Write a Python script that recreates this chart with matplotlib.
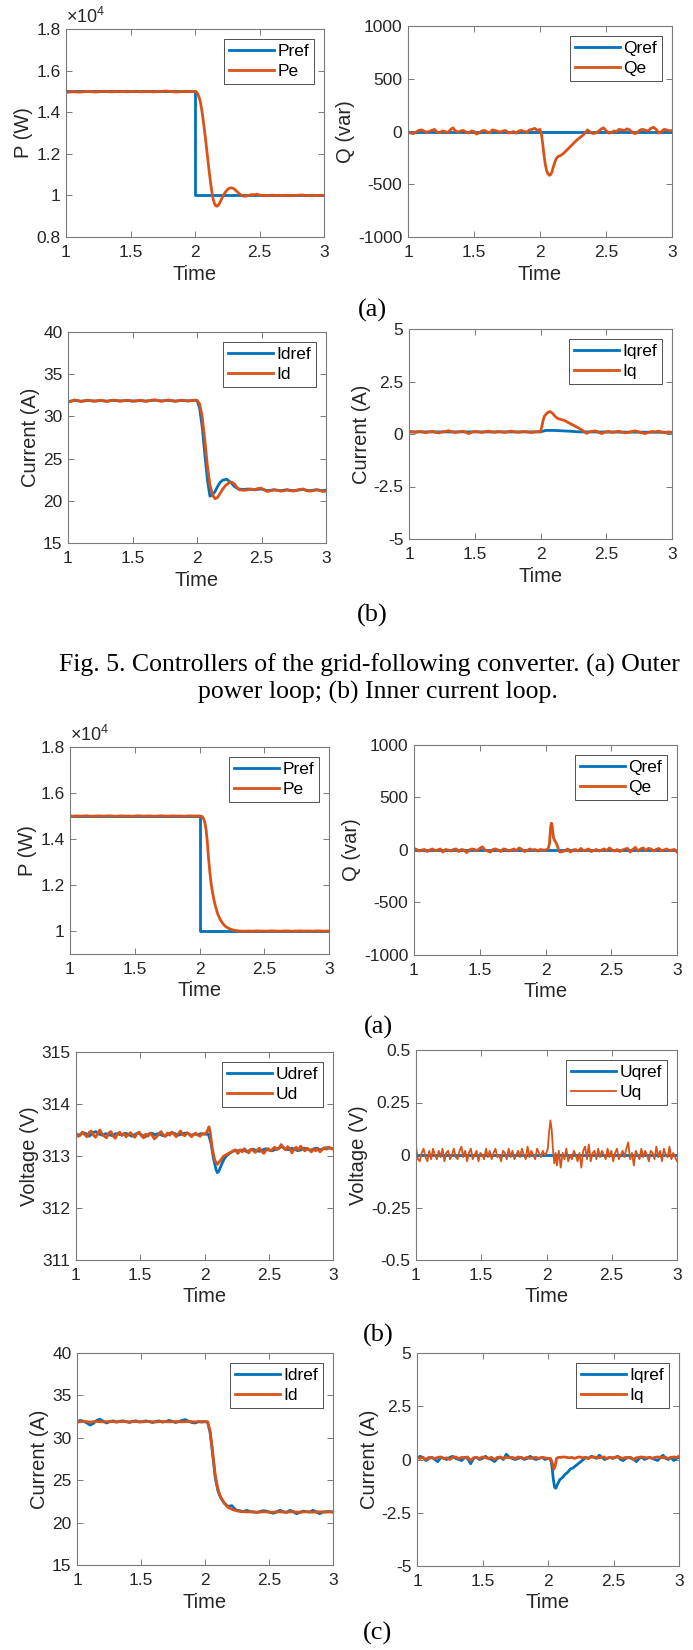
import numpy as np
import matplotlib
matplotlib.use("Agg")
import matplotlib.pyplot as plt
from matplotlib.ticker import FuncFormatter

plt.rcParams['font.family'] = ['Liberation Sans', 'DejaVu Sans']
plt.rcParams['mathtext.fontset'] = 'custom'
plt.rcParams['mathtext.rm'] = 'Liberation Sans'
plt.rcParams['mathtext.it'] = 'Liberation Sans'
plt.rcParams['axes.unicode_minus'] = False

BLUE = '#0072BD'
ORANGE = '#D95319'
W, H = 693, 1650

# ---------------- data: Fig. 5 (grid-following) ----------------
time_axis = [1, 1.5, 2, 2.5, 3]

pref_t = [1.0, 2.0, 2.0, 3.0]
pref_v = [15000, 15000, 10000, 10000]

pe5_pre = [14950, 14965, 14980, 14975, 14960, 14975, 14990, 14995, 14985, 14970,
           14980, 14995, 15005, 14990, 14980, 14985, 15000, 14995, 14985, 14980,
           14990, 15005, 14995, 14980, 14985, 15000, 14990, 14975, 14985, 14995,
           15005, 15020, 15000, 14985, 14970, 14980, 14995, 15005, 14990, 14995]
pe5_tt = [2.0, 2.01, 2.02, 2.03, 2.04, 2.05, 2.06, 2.07, 2.08, 2.09, 2.10, 2.11, 2.12,
          2.13, 2.14, 2.15, 2.16, 2.17, 2.18, 2.19, 2.20, 2.22, 2.24, 2.26, 2.28, 2.30,
          2.32, 2.34, 2.36, 2.38, 2.40, 2.42, 2.44, 2.46, 2.48, 2.50]
pe5_tv = [15000, 14980, 14900, 14750, 14550, 14200, 13800, 13300, 12800, 12250, 11700,
          11150, 10650, 10200, 9850, 9620, 9510, 9480, 9520, 9620, 9750, 10000, 10200,
          10330, 10370, 10330, 10220, 10100, 10000, 9960, 9970, 10010, 10040, 10030,
          10060, 10010]
pe5_post = [10000, 9990, 10000, 10010, 10000, 9995, 10000, 10005, 10000, 9990,
            9995, 10010, 10020, 10005, 9990, 9985, 9995, 10000, 10005, 9995]

qref_t = [1.0, 3.0]
qref_v = [0, 0]
qe5_pre = [0, -15, -20, -5, 10, 15, 5, -5, 0, 10, 20, -5, -10, 5, 0, -10, 15, 35, 5, -5,
           5, 10, -5, -15, 5, 0, -25, -10, 5, 10, -5, -10, 15, 10, 0, -5, 5, 10, -15, -10,
           0, -15, 5, 10, 0, -5, 15, 20, 30, 10]
qe5_tt = [2.0, 2.01, 2.02, 2.03, 2.04, 2.05, 2.06, 2.07, 2.08, 2.09, 2.10, 2.11, 2.12,
          2.13, 2.14, 2.16, 2.18, 2.20, 2.22, 2.24, 2.26, 2.28, 2.30, 2.32, 2.34, 2.36]
qe5_tv = [20, -20, -110, -220, -310, -370, -400, -415, -410, -385, -340, -300, -265,
          -245, -235, -225, -205, -180, -155, -130, -105, -80, -60, -40, -15, 15]
qe5_post = [-5, -20, -15, 0, 20, 35, 10, -15, -10, 5, 0, 20, 15, 10, 25, 15, -10, -20,
            -5, 15, 20, 10, 5, 30, 40, 20, -15, 0, 20, 15, 5, 10]

idref5_pre = [31.75, 31.82, 31.88, 31.85, 31.80, 31.84, 31.90, 31.86, 31.82, 31.85,
              31.88, 31.84, 31.80, 31.86, 31.90, 31.87, 31.83, 31.85, 31.89, 31.86,
              31.82, 31.84, 31.88, 31.85, 31.81, 31.86, 31.90, 31.92, 31.86, 31.83,
              31.88, 31.91, 31.86, 31.82, 31.85, 31.89, 31.87, 31.84, 31.88, 31.90]
idref5_tt = [2.0, 2.02, 2.04, 2.06, 2.08, 2.10, 2.12, 2.14, 2.16, 2.18, 2.20, 2.23,
             2.26, 2.29, 2.32, 2.36, 2.40]
idref5_tv = [31.9, 31.0, 28.8, 25.6, 22.6, 20.55, 20.7, 21.1, 21.7, 22.2, 22.45, 22.55,
             22.2, 21.7, 21.4, 21.35, 21.4]
idref5_post = [21.35, 21.3, 21.35, 21.4, 21.3, 21.2, 21.25, 21.3, 21.25, 21.2, 21.25, 21.3,
               21.25, 21.2, 21.25, 21.3, 21.35, 21.25, 21.2, 21.25, 21.3, 21.25, 21.2, 21.25]
id5_pre = [31.70, 31.80, 31.95, 31.88, 31.78, 31.83, 31.93, 31.87, 31.80, 31.84,
           31.90, 31.85, 31.78, 31.85, 31.93, 31.88, 31.81, 31.84, 31.92, 31.87,
           31.80, 31.83, 31.90, 31.86, 31.79, 31.85, 31.94, 31.96, 31.85, 31.80,
           31.88, 31.95, 31.87, 31.79, 31.83, 31.91, 31.88, 31.82, 31.87, 31.92]
id5_tt = [2.0, 2.02, 2.04, 2.06, 2.08, 2.10, 2.12, 2.14, 2.16, 2.18, 2.20, 2.22, 2.25,
          2.27, 2.29, 2.31, 2.33, 2.36, 2.40]
id5_tv = [31.9, 31.5, 30.0, 27.3, 24.2, 21.9, 20.7, 20.25, 20.4, 20.9, 21.4, 21.8, 22.15,
          22.2, 22.0, 21.6, 21.3, 21.25, 21.3]
id5_post = [21.4, 21.3, 21.45, 21.5, 21.3, 21.1, 21.2, 21.3, 21.25, 21.15, 21.2, 21.3,
            21.2, 21.15, 21.25, 21.35, 21.4, 21.2, 21.15, 21.2, 21.3, 21.25, 21.1, 21.15]

iqref5_t = [1.0, 2.0, 2.04, 2.10, 2.20, 2.30, 3.0]
iqref5_v = [0.1, 0.1, 0.17, 0.17, 0.14, 0.1, 0.08]
iq5_pre = [0.12, 0.10, 0.08, 0.12, 0.10, 0.06, 0.10, 0.13, 0.08, 0.05, 0.10, 0.12, 0.16,
           0.10, 0.07, 0.10, 0.13, 0.10, 0.02, 0.09, 0.12, 0.10, 0.07, 0.11, 0.14, 0.10,
           0.08, 0.12, 0.10, 0.07, 0.11, 0.14, 0.10, 0.08, 0.10, 0.12, 0.09, 0.07, 0.10, 0.11]
iq5_tt = [2.0, 2.01, 2.02, 2.03, 2.05, 2.07, 2.09, 2.11, 2.13, 2.15, 2.18, 2.21, 2.24,
          2.27, 2.30, 2.33, 2.35, 2.37]
iq5_tv = [0.1, 0.35, 0.65, 0.85, 1.0, 1.07, 1.0, 0.85, 0.74, 0.7, 0.65, 0.55, 0.45, 0.35,
          0.25, 0.12, 0.03, 0.1]
iq5_post = [0.12, 0.15, 0.08, 0.02, 0.10, 0.12, 0.08, 0.10, 0.13, 0.09, 0.05, 0.08, 0.12,
            0.15, 0.10, 0.06, 0.02, 0.08, 0.12, 0.10, 0.14, 0.09, 0.06, 0.10, 0.08]

# ---------------- data: Fig. 6 ----------------
pe6_pre = [15000, 14990, 15005, 14995, 15000, 15010, 14995, 14990, 15000, 15005,
           14995, 15000, 15010, 15000, 14990, 15000, 15005, 14995, 15000, 14990,
           15000, 15010, 15000, 14995, 15005, 15000, 14990, 15000, 15010, 15000,
           14995, 15000, 15005, 14995, 15000, 14990, 15000, 15005, 15000, 15000]
pe6_tt = [2.0, 2.02, 2.03, 2.04, 2.05, 2.06, 2.07, 2.08, 2.09, 2.10, 2.11, 2.12, 2.14,
          2.16, 2.18, 2.20, 2.23, 2.26, 2.30, 2.34]
pe6_tv = [15000, 14980, 14900, 14750, 14450, 13900, 13150, 12550, 12050, 11700, 11400,
          11150, 10750, 10500, 10320, 10200, 10100, 10040, 10005, 9990]
pe6_post = [9995, 10000, 9990, 10000, 10005, 9995, 10000, 9990, 10000, 10005, 10000,
            9995, 9990, 10000, 10005, 10000, 9985, 9995, 10000, 10005, 9995, 10000,
            10000, 9990, 10000, 10005, 10000, 9995, 10000, 10000]

qe6_pre = [15, 5, -10, 0, 5, -15, 0, 10, -5, 0, 10, -20, 5, 0, -10, 5, 10, -15, 5, 0,
           -25, 0, 10, 5, -5, 15, 30, 0, -10, -20, 5, 10, 0, -15, 10, 5, -10, 0, 10, -5,
           20, 5, -15, -5, 10, 0, 5, -10, 5, 0]
qe6_tt = [2.0, 2.02, 2.03, 2.035, 2.04, 2.045, 2.05, 2.055, 2.06, 2.07, 2.08, 2.09,
          2.10, 2.11]
qe6_tv = [0, 10, 60, 150, 230, 255, 235, 180, 120, 90, 70, 40, 0, -20]
qe6_post = [-15, -5, 10, -20, 0, 5, -10, 15, -5, 0, 10, -15, -5, 5, -10, 0, 10, -5, 20,
            0, -10, 5, -15, 0, 10, 15, -20, 5, 25, -10, 10, 20, -5, 15, 10, -10, 5, 15,
            -5, 0, 10, -5, 0, 5, -20]

udref6_pre = [313.42, 313.40, 313.45, 313.43, 313.38, 313.44, 313.47, 313.42, 313.40,
              313.43, 313.41, 313.39, 313.43, 313.42, 313.40, 313.44, 313.41, 313.38,
              313.42, 313.44, 313.40, 313.37, 313.42, 313.44, 313.41, 313.43, 313.40,
              313.38, 313.42, 313.45, 313.43, 313.40, 313.42, 313.44, 313.43, 313.40,
              313.42, 313.41, 313.43, 313.42]
udref6_tt = [2.03, 2.05, 2.07, 2.09, 2.10, 2.11, 2.13, 2.15, 2.17, 2.20, 2.23, 2.26]
udref6_tv = [313.42, 313.25, 312.95, 312.74, 312.68, 312.70, 312.82, 312.93, 313.0,
             313.06, 313.1, 313.1]
udref6_post = [313.10, 313.12, 313.08, 313.11, 313.13, 313.10, 313.09, 313.12, 313.14,
               313.11, 313.10, 313.13, 313.15, 313.18, 313.14, 313.12, 313.15, 313.13,
               313.10, 313.12, 313.15, 313.13, 313.11, 313.14, 313.15, 313.12, 313.14,
               313.16, 313.15, 313.14]
ud6_pre = [313.44, 313.38, 313.40, 313.46, 313.41, 313.37, 313.45, 313.48, 313.40, 313.36,
           313.44, 313.50, 313.42, 313.38, 313.35, 313.44, 313.47, 313.39, 313.34, 313.42,
           313.46, 313.40, 313.43, 313.37, 313.41, 313.45, 313.40, 313.36, 313.43, 313.46,
           313.39, 313.35, 313.42, 313.38, 313.44, 313.40, 313.33, 313.37, 313.42, 313.47,
           313.41, 313.38, 313.44, 313.40, 313.46, 313.42, 313.37, 313.43, 313.48, 313.41,
           313.39, 313.45, 313.42, 313.37, 313.41, 313.44, 313.40, 313.38, 313.43, 313.42]
ud6_tt = [2.015, 2.025, 2.035, 2.045, 2.06, 2.08, 2.10, 2.12, 2.15, 2.18, 2.21, 2.24]
ud6_tv = [313.45, 313.5, 313.56, 313.45, 313.15, 312.92, 312.84, 312.9, 313.0, 313.04,
          313.08, 313.12]
ud6_post = [313.05, 313.12, 313.08, 313.14, 313.10, 313.06, 313.13, 313.11, 313.07, 313.12,
            313.15, 313.09, 313.05, 313.11, 313.14, 313.10, 313.13, 313.17, 313.12, 313.15,
            313.22, 313.16, 313.12, 313.18, 313.14, 313.06, 313.13, 313.17, 313.11, 313.19,
            313.14, 313.10, 313.15, 313.12, 313.08, 313.13, 313.10, 313.14, 313.08, 313.12,
            313.16, 313.13, 313.17, 313.15, 313.13]

uqref_t = [1.0, 3.0]
uqref_v = [0, 0]
uq6_pre = [0.04, -0.02, -0.03, 0.01, 0.03, -0.01, -0.03, 0.02, -0.02, 0.03, 0.0, -0.02,
           0.02, -0.01, 0.03, -0.03, 0.01, 0.02, -0.02, 0.0, 0.03, -0.01, -0.02, 0.02,
           0.04, -0.01, 0.02, -0.03, 0.01, 0.03, -0.02, 0.0, 0.02, -0.03, 0.01, 0.0,
           -0.02, 0.03, -0.01, 0.02, -0.02, 0.01, 0.03, -0.01, 0.0, -0.03, 0.02, 0.01,
           -0.02, 0.03, -0.01, 0.02, -0.02, 0.0, 0.02, -0.01, 0.03, 0.0, -0.02, 0.04,
           -0.01, 0.02, 0.0, -0.02, 0.03, 0.01, -0.01, 0.02, 0.0, 0.01]
uq6_tt = [2.01, 2.02, 2.03, 2.04, 2.05, 2.06, 2.07]
uq6_tv = [0.03, 0.11, 0.165, 0.12, 0.02, -0.04, 0.01]
uq6_post = [-0.05, 0.02, -0.06, 0.01, -0.02, 0.03, -0.03, 0.0, -0.02, 0.02, 0.0, -0.03,
            0.01, -0.06, 0.02, 0.04, -0.02, 0.05, -0.03, 0.01, 0.02, -0.02, 0.03, -0.01,
            0.02, 0.0, -0.02, 0.03, -0.01, 0.02, -0.03, 0.01, 0.03, -0.02, 0.0, 0.02,
            -0.01, 0.03, 0.06, -0.02, 0.01, -0.05, 0.02, 0.0, -0.02, 0.03, -0.01, 0.02,
            0.0, -0.03, 0.02, 0.01, -0.02, 0.04, -0.01, 0.02, -0.03, 0.03, 0.0, -0.01,
            0.04, -0.02, 0.01, -0.01, -0.03]

idref6_pre = [31.9, 32.05, 31.95, 31.75, 31.5, 31.7, 32.05, 32.2, 31.95, 31.75, 31.9, 32.0,
              31.85, 31.95, 32.0, 31.9, 31.8, 31.95, 32.0, 31.85, 31.9, 32.0, 31.9, 31.8,
              31.9, 32.0, 31.85, 31.9, 32.05, 31.95, 31.8, 31.9, 32.05, 32.15, 31.95, 31.8,
              31.75, 31.9, 31.85, 31.9]
idref6_tt = [2.02, 2.04, 2.06, 2.08, 2.10, 2.12, 2.15, 2.18, 2.21, 2.24, 2.27]
idref6_tv = [31.85, 30.6, 28.0, 25.3, 23.8, 23.0, 22.3, 21.9, 22.0, 21.5, 21.4]
idref6_post = [21.3, 21.45, 21.3, 21.25, 21.2, 21.3, 21.4, 21.35, 21.2, 21.1, 21.25, 21.45,
               21.3, 21.2, 21.45, 21.3, 21.05, 21.2, 21.35, 21.3, 21.25, 21.45, 21.25,
               21.05, 21.25, 21.3, 21.3, 21.25]
id6_pre = [31.85, 31.9, 31.95, 31.9, 31.85, 31.9, 31.92, 31.9, 31.88, 31.9, 31.93, 31.9,
           31.87, 31.9, 31.92, 31.9, 31.88, 31.9, 31.92, 31.9, 31.88, 31.9, 31.93, 31.9,
           31.87, 31.9, 31.92, 31.9, 31.88, 31.9, 31.92, 31.9, 31.88, 31.9, 31.93, 31.9,
           31.88, 31.9, 31.92, 31.9]
id6_tt = [2.02, 2.04, 2.06, 2.08, 2.10, 2.12, 2.15, 2.18, 2.22, 2.26]
id6_tv = [31.9, 30.8, 28.3, 25.6, 24.0, 23.1, 22.3, 21.8, 21.5, 21.35]
id6_post = [21.3, 21.28, 21.25, 21.27, 21.25, 21.22, 21.25, 21.27, 21.25, 21.23, 21.25,
            21.27, 21.25, 21.22, 21.25, 21.27, 21.25, 21.23, 21.25, 21.27, 21.25, 21.23,
            21.25, 21.27, 21.25, 21.23, 21.25, 21.25]

iqref6_pre = [0.05, 0.15, 0.1, -0.05, 0.05, 0.1, 0.0, -0.1, 0.1, 0.05, 0.0, 0.1, 0.15,
              0.05, 0.0, -0.05, 0.1, 0.05, -0.2, 0.05, 0.1, 0.0, 0.05, 0.15, 0.05, 0.0,
              -0.1, 0.05, 0.1, 0.0, 0.25, 0.1, 0.05, 0.0, 0.05, 0.1, 0.0, 0.05, 0.15, 0.05,
              0.0, 0.05, 0.1, 0.0, 0.05]
iqref6_tt = [2.02, 2.03, 2.04, 2.05, 2.06, 2.07, 2.09, 2.11, 2.13, 2.15, 2.17, 2.19, 2.21,
             2.23, 2.25, 2.27]
iqref6_tv = [0.0, -0.3, -0.9, -1.3, -1.35, -1.2, -0.95, -0.85, -0.7, -0.6, -0.45, -0.4,
             -0.3, -0.2, -0.1, 0.0]
iqref6_post = [0.1, 0.05, 0.15, 0.1, 0.05, 0.2, 0.1, 0.0, 0.05, 0.1, 0.05, 0.1, 0.15, 0.0,
               -0.05, 0.05, 0.1, 0.05, 0.0, -0.1, 0.05, 0.1, 0.0, 0.05, 0.1, 0.05, 0.0,
               -0.05, 0.1, 0.2, 0.05, 0.0, 0.1, -0.05, 0.05, 0.1]
iq6_pre = [0.1, 0.05, 0.1, 0.0, 0.1, 0.08, 0.05, 0.1, 0.12, 0.05, 0.08, 0.0, 0.1, 0.12,
           0.05, 0.1, 0.08, 0.12, -0.05, 0.08, 0.1, 0.05, 0.12, 0.08, 0.05, 0.1, 0.0, 0.1,
           0.12, 0.05, 0.1, 0.08, 0.1, 0.05, 0.12, 0.08, 0.05, 0.1, 0.05, 0.08, 0.1, 0.05,
           0.1, 0.08, 0.05]
iq6_tt = [2.02, 2.035, 2.045, 2.055, 2.065, 2.08]
iq6_tv = [0.05, -0.2, -0.45, -0.3, 0.05, 0.1]
iq6_post = [0.1, 0.12, 0.1, 0.08, 0.1, 0.05, 0.1, 0.12, 0.08, 0.1, 0.05, 0.1, 0.12, 0.1,
            0.08, 0.1, 0.12, 0.05, 0.1, 0.08, 0.1, 0.12, 0.1, 0.05, 0.1, 0.08, 0.1, 0.0,
            0.08, 0.1, 0.12, 0.1, 0.08, 0.1, 0.05, 0.1, 0.12, 0.1, 0.08, 0.1, 0.05, 0.1,
            0.12, 0.1, 0.15]


def build(pre, pre_span, tt, tv, post, post_span):
    # pre/post noise samples are spread evenly over their time span
    t = np.concatenate([np.linspace(pre_span[0], pre_span[1], len(pre)), tt,
                        np.linspace(post_span[0], post_span[1], len(post))])
    v = np.concatenate([pre, tv, post])
    return t, v


fig = plt.figure(figsize=(W / 100, H / 100), dpi=100)

GREY = '#7a7a7a'
TXT = '#262626'


def panel(box, ylim, yticks, ylabel, blue, orange, names, scale=1.0, orange_lw=2.0):
    l, r, t, b = box
    ax = fig.add_axes([l / W, 1 - b / H, (r - l) / W, (b - t) / H])
    ax.plot(blue[0], blue[1], color=BLUE, lw=2.0, label=names[0])
    ax.plot(orange[0], orange[1], color=ORANGE, lw=orange_lw, label=names[1])
    ax.set_xlim(1, 3)
    ax.set_ylim(*ylim)
    ax.set_xticks(time_axis)
    ax.set_yticks(yticks)
    ax.xaxis.set_major_formatter(FuncFormatter(lambda v, p: '%g' % v))
    ax.yaxis.set_major_formatter(FuncFormatter(lambda v, p: '%g' % round(v / scale, 4)))
    ax.tick_params(direction='in', top=True, right=True, length=4, width=0.7,
                   color=GREY, labelcolor=TXT, labelsize=12.5)
    ax.tick_params(axis='x', pad=6)
    ax.tick_params(axis='y', pad=4)
    for s in ax.spines.values():
        s.set_color(GREY)
        s.set_linewidth(0.8)
    ax.set_xlabel('Time', fontsize=14.5, color=TXT, labelpad=3)
    ax.set_ylabel(ylabel, fontsize=14.5, color=TXT, labelpad=2)
    leg = ax.legend(loc='upper right', fontsize=12.5, fancybox=False, framealpha=1,
                    edgecolor='#333333', handlelength=2.6, handletextpad=0.2,
                    labelspacing=0.3, borderpad=0.3, borderaxespad=0.55)
    leg.get_frame().set_linewidth(0.6)
    if scale != 1.0:
        ax.text(0.0, 1.008, r'$\times 10^{4}$', transform=ax.transAxes,
                fontsize=13, color=TXT, ha='left', va='bottom')
    return ax


# Fig. 5 (a)
panel((66, 324, 29, 237), (8000, 18000), [8000, 10000, 12000, 14000, 16000, 18000],
      'P (W)', (pref_t, pref_v),
      build(pe5_pre, (1.0, 1.975), pe5_tt, pe5_tv, pe5_post, (2.525, 3.0)),
      ['Pref', 'Pe'], scale=1e4)
panel((408, 672, 26, 237), (-1000, 1000), [-1000, -500, 0, 500, 1000], 'Q (var)',
      (qref_t, qref_v),
      build(qe5_pre, (1.0, 1.98), qe5_tt, qe5_tv, qe5_post, (2.38, 3.0)),
      ['Qref', 'Qe'])
# Fig. 5 (b)
panel((68, 326, 332, 543), (15, 40), [15, 20, 25, 30, 35, 40], 'Current (A)',
      build(idref5_pre, (1.0, 1.98), idref5_tt, idref5_tv, idref5_post, (2.42, 3.0)),
      build(id5_pre, (1.0, 1.98), id5_tt, id5_tv, id5_post, (2.42, 3.0)),
      ['Idref', 'Id'])
panel((409, 672, 329, 539), (-5, 5), [-5, -2.5, 0, 2.5, 5], 'Current (A)',
      (iqref5_t, iqref5_v),
      build(iq5_pre, (1.0, 1.98), iq5_tt, iq5_tv, iq5_post, (2.39, 3.0)),
      ['Iqref', 'Iq'])

# Fig. 6 (a)
panel((70, 329, 747, 954), (9000, 18000), [10000, 12000, 14000, 16000, 18000], 'P (W)',
      (pref_t, pref_v),
      build(pe6_pre, (1.0, 1.98), pe6_tt, pe6_tv, pe6_post, (2.36, 3.0)),
      ['Pref', 'Pe'], scale=1e4)
panel((414, 677, 745, 955), (-1000, 1000), [-1000, -500, 0, 500, 1000], 'Q (var)',
      (qref_t, qref_v),
      build(qe6_pre, (1.0, 1.98), qe6_tt, qe6_tv, qe6_post, (2.13, 3.0)),
      ['Qref', 'Qe'])
# Fig. 6 (b)
panel((76, 333, 1052, 1260), (311, 315), [311, 312, 313, 314, 315], 'Voltage (V)',
      build(udref6_pre, (1.0, 2.0), udref6_tt, udref6_tv, udref6_post, (2.28, 3.0)),
      build(ud6_pre, (1.0, 2.0), ud6_tt, ud6_tv, ud6_post, (2.26, 3.0)),
      ['Udref', 'Ud'])
panel((416, 677, 1050, 1260), (-0.5, 0.5), [-0.5, -0.25, 0, 0.25, 0.5], 'Voltage (V)',
      (uqref_t, uqref_v),
      build(uq6_pre, (1.0, 2.0), uq6_tt, uq6_tv, uq6_post, (2.08, 3.0)),
      ['Uqref', 'Uq'], orange_lw=1.3)
# Fig. 6 (c)
panel((77, 333, 1353, 1565), (15, 40), [15, 20, 25, 30, 35, 40], 'Current (A)',
      build(idref6_pre, (1.0, 2.0), idref6_tt, idref6_tv, idref6_post, (2.30, 3.0)),
      build(id6_pre, (1.0, 2.0), id6_tt, id6_tv, id6_post, (2.28, 3.0)),
      ['Idref', 'Id'])
panel((417, 679, 1353, 1566), (-5, 5), [-5, -2.5, 0, 2.5, 5], 'Current (A)',
      build(iqref6_pre, (1.0, 2.0), iqref6_tt, iqref6_tv, iqref6_post, (2.29, 3.0)),
      build(iq6_pre, (1.0, 2.0), iq6_tt, iq6_tv, iq6_post, (2.10, 3.0)),
      ['Iqref', 'Iq'])

# sub-figure letters and caption
serif = ['Liberation Serif', 'DejaVu Serif']
for lab, x, y in [('(a)', 372, 310), ('(b)', 372, 615), ('(a)', 378, 1027),
                  ('(b)', 378, 1335), ('(c)', 377, 1633)]:
    fig.text(x / W, 1 - y / H, lab, family=serif, fontsize=19, ha='center', va='center')

fig.text(369 / W, 1 - 665 / H,
         'Fig. 5. Controllers of the grid-following converter. (a) Outer',
         family=serif, fontsize=18.5, ha='center', va='center')
fig.text(378 / W, 1 - 692 / H, 'power loop; (b) Inner current loop.',
         family=serif, fontsize=18.5, ha='center', va='center')

fig.savefig('out.png', dpi=100)
